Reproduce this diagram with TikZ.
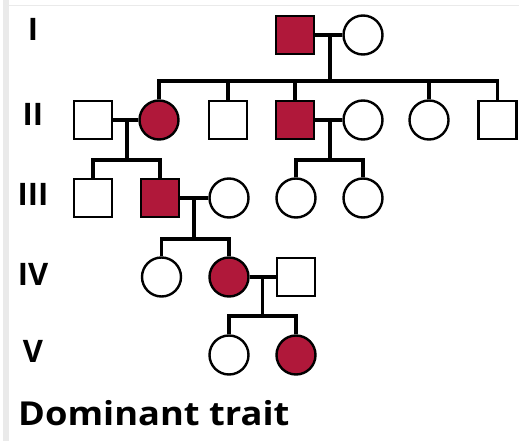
\documentclass[tikz,border=0pt]{standalone}
\usepackage{fontspec}
\setmainfont{Open Sans}
\newfontfamily\captionfont[FakeStretch=1.1]{Open Sans}
\definecolor{traitred}{RGB}{176,24,58}
\definecolor{framegray}{RGB}{234,234,234}
\begin{document}
\begin{tikzpicture}[x=1pt,y=-1pt,
  person/.style={draw=black, line width=2.4pt, fill=white, inner sep=0pt},
  male/.style={person, rectangle, minimum size=38pt},
  female/.style={person, circle, minimum size=39pt},
  affected/.style={fill=traitred},
  link/.style={line width=3.6pt, line join=miter},
  genlabel/.style={font=\bfseries\fontsize{31}{31}\selectfont, anchor=base, inner sep=0pt},
  caption/.style={font=\captionfont\bfseries\fontsize{33}{33}\selectfont, anchor=base west, inner sep=0pt}]

% page frame
\useasboundingbox (0,0) rectangle (519,441);
\fill[framegray] (3,0) rectangle (9,441);
\draw[framegray, line width=1pt] (9,6) -- (519,6);

% generation labels
\node[genlabel] (gI)   at (33,41)  {I};
\node[genlabel] (gII)  at (33,126) {II};
\node[genlabel] (gIII) at (33,205) {III};
\node[genlabel] (gIV)  at (33,285) {IV};
\node[genlabel] (gV)   at (33,362) {V};

% generation I
\node[male, affected] (I1) at (295,35) {};
\node[female]         (I2) at (363,35) {};

% generation II
\node[male]             (II1) at (93,120)  {};
\node[female, affected] (II2) at (159,120) {};
\node[male]             (II3) at (228,120) {};
\node[male, affected]   (II4) at (295,120) {};
\node[female]           (II5) at (363,120) {};
\node[female]           (II6) at (429,120) {};
\node[male]             (II7) at (497.5,120) {};

% generation III
\node[male]             (III1) at (93,198)  {};
\node[male, affected]   (III2) at (160,198) {};
\node[female]           (III3) at (229,198) {};
\node[female]           (III4) at (296,198) {};
\node[female]           (III5) at (363,198) {};

% generation IV
\node[female]           (IV1) at (161.5,277) {};
\node[female, affected] (IV2) at (229,277)   {};
\node[male]             (IV3) at (296,277)   {};

% generation V
\node[female]           (V1) at (229,355) {};
\node[female, affected] (V2) at (296,355) {};

% mating points and sibship bars
\coordinate (mI)   at (330,35);   \coordinate (sI)   at (330,81);
\coordinate (mII)  at (127,120);  \coordinate (sII)  at (127,160);
\coordinate (mIIb) at (330,120);  \coordinate (sIIb) at (330,160);
\coordinate (mIII) at (194,198);  \coordinate (sIII) at (194,239);
\coordinate (mIV)  at (262.5,277);\coordinate (sIV)  at (262.5,316);

% I-1 x I-2
\draw[link] (I1) -- (I2);
\draw[link] (mI) -- (sI);
\draw[link] (II2.north) |- (sI) -| (II7.north);
\draw[link] (II3.north) -- (II3.north |- sI);
\draw[link] (II4.north) -- (II4.north |- sI);
\draw[link] (II6.north) -- (II6.north |- sI);

% II-1 x II-2
\draw[link] (II1) -- (II2);
\draw[link] (mII) -- (sII);
\draw[link] (III1.north) |- (sII) -| (III2.north);

% II-4 x II-5
\draw[link] (II4) -- (II5);
\draw[link] (mIIb) -- (sIIb);
\draw[link] (III4.north) |- (sIIb) -| (III5.north);

% III-2 x III-3
\draw[link] (III2) -- (III3);
\draw[link] (mIII) -- (sIII);
\draw[link] (IV1.north) |- (sIII) -| (IV2.north);

% IV-2 x IV-3
\draw[link] (IV2) -- (IV3);
\draw[link] (mIV) -- (sIV);
\draw[link] (V1.north) |- (sIV) -| (V2.north);

% caption
\node[caption] (title) at (18,425) {Dominant trait};
\end{tikzpicture}
\end{document}
